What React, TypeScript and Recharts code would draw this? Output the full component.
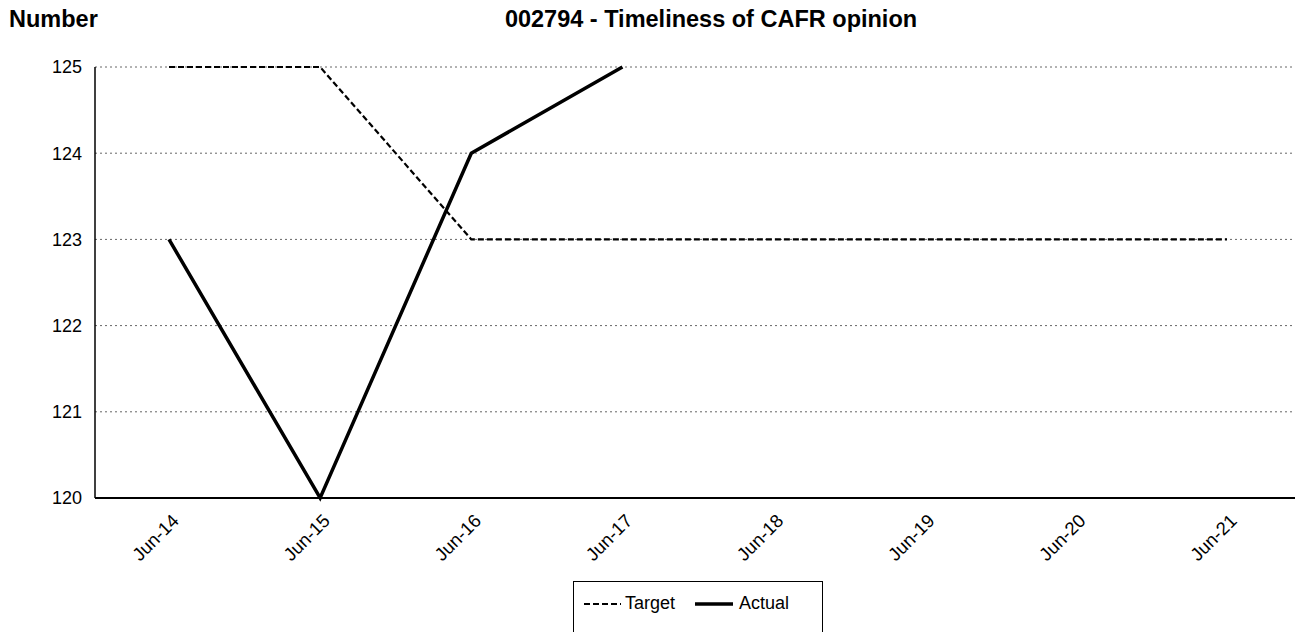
import { LineChart, Line, XAxis, YAxis, CartesianGrid } from "recharts";

const categories = ["Jun-14", "Jun-15", "Jun-16", "Jun-17", "Jun-18", "Jun-19", "Jun-20", "Jun-21"];
const targetValues = [125, 125, 123, 123, 123, 123, 123, 123];
const actualValues: (number | null)[] = [123, 120, 124, 125, null, null, null, null];
const yTicks = [120, 121, 122, 123, 124, 125];

const data = categories.map((name, i) => ({
  name,
  target: targetValues[i],
  actual: actualValues[i],
}));

const font = "'Liberation Sans', Arial, sans-serif";

const XTick = (props: any) => {
  const { x, y, payload } = props;
  return (
    <g transform={`translate(${x + 11},${y + 16})`}>
      <text x={0} y={0} textAnchor="end" transform="rotate(-45)" fontSize={18.5} fill="#000" fontFamily={font}>
        {payload.value}
      </text>
    </g>
  );
};

const App = () => {
  return (
    <div style={{ position: "fixed", left: 0, top: 0, width: 1295, height: 632, background: "#fff", fontFamily: font, overflow: "hidden" }}>
      <div style={{ position: "absolute", left: 9, top: 8, fontSize: 23.5, lineHeight: "23px", fontWeight: "bold", whiteSpace: "nowrap" }}>
        Number
      </div>
      <div style={{ position: "absolute", left: 711, top: 8, transform: "translateX(-50%)", fontSize: 23.5, lineHeight: "23px", fontWeight: "bold", whiteSpace: "nowrap" }}>
        002794 - Timeliness of CAFR opinion
      </div>
      <LineChart width={1295} height={632} data={data} margin={{ top: 67, right: 0, left: 35, bottom: 54 }}>
        <CartesianGrid vertical={false} stroke="#666" strokeDasharray="2 3" />
        <XAxis
          dataKey="name"
          padding={{ left: 74, right: 68 }}
          tickLine={false}
          axisLine={{ stroke: "#000", strokeWidth: 2 }}
          tick={<XTick />}
          interval={0}
          height={80}
        />
        <YAxis
          domain={[120, 125]}
          ticks={yTicks}
          width={60}
          tickLine={false}
          tickSize={6}
          tickMargin={7}
          axisLine={{ stroke: "#000", strokeWidth: 1.5 }}
          tick={{ fontSize: 18, fill: "#000", fontFamily: font }}
        />
        <Line dataKey="target" stroke="#000" strokeWidth={2.2} strokeDasharray="6 3" dot={false} isAnimationActive={false} />
        <Line dataKey="actual" stroke="#000" strokeWidth={3.5} dot={false} isAnimationActive={false} />
      </LineChart>
      <div style={{ position: "absolute", left: 573, top: 581, width: 250, height: 70, border: "1px solid #000", boxSizing: "border-box" }}>
        <svg width={250} height={40} style={{ position: "absolute", left: 0, top: 0 }}>
          <line x1={10} x2={47} y1={22} y2={22} stroke="#000" strokeWidth={2.2} strokeDasharray="6 3" />
          <text x={51} y={27} fontSize={18} fontFamily={font} fill="#000">Target</text>
          <line x1={121} x2={159} y1={22} y2={22} stroke="#000" strokeWidth={3.5} />
          <text x={165} y={27} fontSize={18} fontFamily={font} fill="#000">Actual</text>
        </svg>
      </div>
    </div>
  );
};

export default App;
